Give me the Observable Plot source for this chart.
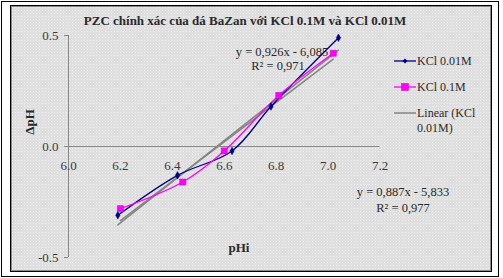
<!DOCTYPE html>
<html><head><meta charset="utf-8">
<script src="https://cdn.jsdelivr.net/npm/d3@7"></script>
<script src="https://cdn.jsdelivr.net/npm/@observablehq/plot@0.6"></script>
<style>
body{margin:0;background:#fff;}
#wrap{position:relative;width:503px;height:278px;overflow:hidden;font-family:"Liberation Serif","Times New Roman",serif;}
.outer{position:absolute;left:1px;top:1px;width:496px;height:274px;border:1px solid #000;}
.inner{position:absolute;left:10px;top:5px;width:480px;height:265px;border:1px solid #000;box-shadow:inset 0 0 0 1px #8a8a8a;background-color:#dfdfdf;background-image:radial-gradient(circle,#efefef 0.7px,transparent 0.9px);background-size:3px 3px;}
.t{position:absolute;white-space:nowrap;color:#2a2a2a;line-height:1;transform:translate(-50%,-50%);}
.l{position:absolute;white-space:nowrap;color:#2a2a2a;line-height:1;transform:translate(0,-50%);font-size:12px;}
#plot{position:absolute;left:0;top:0;}
</style></head><body>
<div id="wrap">
  <div class="outer"></div>
  <div class="inner"></div>
  <div id="notes"></div>
  <div id="plot"></div>
  <div id="legend"></div>
</div>
<script>
// ---- data ----
const title = "PZC chính xác của đá BaZan với KCl 0.1M và KCl 0.01M";
const xLabel = "pHi";
const yLabel = "ΔpH";
const xTicks = [6.0, 6.2, 6.4, 6.6, 6.8, 7.0, 7.2];
const yTicks = [-0.5, 0.0, 0.5];
const seriesNames = ["KCl 0.01M", "KCl 0.1M"];
const trendName = ["Linear (KCl", "0.01M)"];
const pHiA = [6.19, 6.42, 6.63, 6.78, 7.04];
const dpHA = [-0.31, -0.13, -0.02, 0.18, 0.49];
const pHiB = [6.20, 6.44, 6.60, 6.81, 7.02];
const dpHB = [-0.28, -0.16, -0.02, 0.23, 0.42];
const slopes = [0.926, 0.887];
const intercepts = [-6.085, -5.833];
const eqTexts = [["y = 0,926x - 6,085", "R² = 0,971"], ["y = 0,887x - 5,833", "R² = 0,977"]];

// ---- build ----
const A = pHiA.map((x, i) => ({x, y: dpHA[i], s: seriesNames[0]}));
const B = pHiB.map((x, i) => ({x, y: dpHB[i], s: seriesNames[1]}));
const trend = [pHiA, pHiB].flatMap((xs, k) => d3.extent(xs).map(x => ({x, y: slopes[k] * x + intercepts[k], k})));
const font = "Liberation Serif, Times New Roman, serif";
const navy = "#00007f", mag = "#ff00ff", grey = "#858585";

const chart = Plot.plot({
  width: 503, height: 278,
  marginLeft: 68, marginRight: 123.5, marginTop: 35, marginBottom: 21,
  x: {domain: [xTicks[0], xTicks[xTicks.length - 1]], axis: null},
  y: {domain: [yTicks[0], yTicks[yTicks.length - 1]], axis: null},
  style: {background: "transparent", fontFamily: font, overflow: "visible"},
  marks: [
    Plot.ruleY([0], {x1: xTicks[0], x2: xTicks[xTicks.length - 1], stroke: grey, strokeWidth: 1}),
    Plot.ruleX([xTicks[0]], {y1: yTicks[0], y2: yTicks[yTicks.length - 1], stroke: grey, strokeWidth: 1}),
    Plot.axisY(yTicks, {tickSize: 4, tickPadding: 6, tickFormat: d => d.toFixed(1), fontSize: 13, fontFamily: font, stroke: grey, fill: "#3a3a3a", label: null}),
    Plot.text(xTicks, {x: d => d, y: 0, dy: 19, text: d => d.toFixed(1), fontSize: 13, fontFamily: font, fill: "#3a3a3a"}),
    Plot.line(trend, {x: "x", y: "y", z: "k", stroke: grey, strokeWidth: 1.5}),
    Plot.line(A, {x: "x", y: "y", curve: "catmull-rom", stroke: navy, strokeWidth: 1.3}),
    Plot.line(B, {x: "x", y: "y", curve: "catmull-rom", stroke: mag, strokeWidth: 1.3}),
    Plot.dot(A, {x: "x", y: "y", symbol: "diamond", r: 2.3, fill: navy, stroke: navy, strokeWidth: 0.5}),
    Plot.dot(B, {x: "x", y: "y", symbol: "square", r: 3.4, fill: mag, stroke: "#d000d0", strokeWidth: 0.6})
  ]
});
document.getElementById("plot").appendChild(chart);

// ---- texts (title, axis titles, trend equations) ----
const notes = document.getElementById("notes");
function addText(txt, x, y, css) {
  const d = document.createElement("div");
  d.className = "t"; d.textContent = txt;
  d.style.left = x + "px"; d.style.top = y + "px";
  Object.assign(d.style, css || {});
  notes.appendChild(d);
}
addText(title, 245, 20, {fontSize: "13px", fontWeight: "bold"});
addText(xLabel, 239, 247, {fontSize: "13px", fontWeight: "bold"});
addText(yLabel, 29, 122, {fontSize: "13px", fontWeight: "bold", transform: "translate(-50%,-50%) rotate(-90deg)"});
addText(eqTexts[0][0], 282, 52, {fontSize: "12.5px"});
addText(eqTexts[0][1], 278, 65.5, {fontSize: "12.5px"});
addText(eqTexts[1][0], 403, 192, {fontSize: "12.5px"});
addText(eqTexts[1][1], 403, 207.5, {fontSize: "12.5px"});

// ---- legend ----
const legend = document.getElementById("legend");
const items = [
  {label: [seriesNames[0]], color: navy, sym: "diamond", y: 61},
  {label: [seriesNames[1]], color: mag, sym: "square", y: 87},
  {label: trendName, color: grey, sym: null, y: 113}
];
items.forEach(it => {
  const ns = "http://www.w3.org/2000/svg";
  const svg = document.createElementNS(ns, "svg");
  svg.setAttribute("width", 24); svg.setAttribute("height", 10);
  svg.style.position = "absolute"; svg.style.left = "393px"; svg.style.top = (it.y - 5) + "px";
  const ln = document.createElementNS(ns, "line");
  ln.setAttribute("x1", 1); ln.setAttribute("x2", 23); ln.setAttribute("y1", 5); ln.setAttribute("y2", 5);
  ln.setAttribute("stroke", it.color); ln.setAttribute("stroke-width", it.sym ? 1.3 : 1.5);
  svg.appendChild(ln);
  if (it.sym === "diamond") {
    const p = document.createElementNS(ns, "path");
    p.setAttribute("d", "M12,2.5L14.5,5L12,7.5L9.5,5Z"); p.setAttribute("fill", it.color);
    svg.appendChild(p);
  } else if (it.sym === "square") {
    const r = document.createElementNS(ns, "rect");
    r.setAttribute("x", 8.6); r.setAttribute("y", 1.6); r.setAttribute("width", 6.8); r.setAttribute("height", 6.8);
    r.setAttribute("fill", it.color); r.setAttribute("stroke", "#d000d0"); r.setAttribute("stroke-width", 0.6);
    svg.appendChild(r);
  }
  legend.appendChild(svg);
  it.label.forEach((s, j) => {
    const d = document.createElement("div");
    d.className = "l"; d.textContent = s;
    d.style.left = "417px"; d.style.top = (it.y + j * 14.5) + "px";
    legend.appendChild(d);
  });
});
</script>
</body></html>
